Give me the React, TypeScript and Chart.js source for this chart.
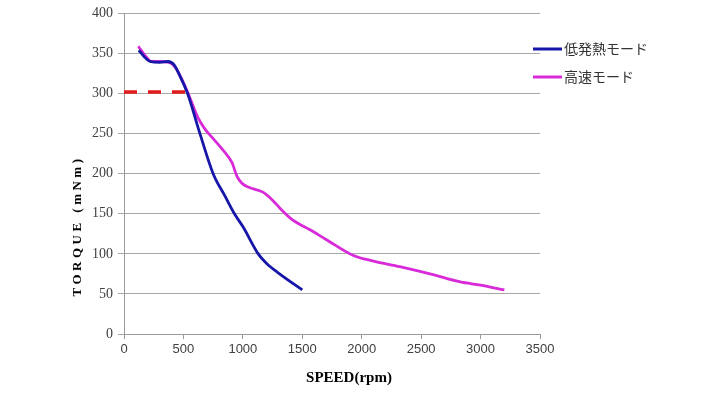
import React, { useEffect, useRef } from "react";
import { Chart, registerables } from "chart.js";

Chart.register(...registerables);

const xTickLabels = ["0", "500", "1000", "1500", "2000", "2500", "3000", "3500"];
const yTickLabels = ["0", "50", "100", "150", "200", "250", "300", "350", "400"];

const lowHeatName = "低発熱モード";
const lowHeatSpeed = [125, 170, 220, 300, 370, 420, 470, 535, 639, 750, 850, 933, 1000, 1129, 1200, 1300, 1500];
const lowHeatTorque = [354, 346, 340, 339, 340, 336, 322, 300, 250, 200, 172, 149, 134, 100, 88, 76, 55];

const highSpeedName = "高速モード";
const highSpeedSpeed = [120, 180, 230, 300, 380, 430, 480, 540, 580, 622, 680, 748, 830, 908, 950, 992, 1050, 1169, 1250, 1312, 1421, 1565, 1700, 1930, 2100, 2320, 2600, 2830, 3000, 3200];
const highSpeedTorque = [359, 347, 340, 340, 339, 333, 320, 300, 285, 270, 256, 244, 230, 214, 197, 188, 183, 177, 167, 157, 142, 130, 118, 98, 91, 84, 74, 65, 61, 55];

const refSpeed = [0, 520];
const refTorque = [302, 302];

const BLUE = "#1616a8";
const MAGENTA = "#d82ad8";
const RED = "#e01c1c";

export default function App() {
  const ref = useRef<HTMLCanvasElement | null>(null);

  useEffect(() => {
    const canvas = ref.current;
    if (!canvas) return;

    const toPts = (xs: number[], ys: number[]) => xs.map((x, i) => ({ x, y: ys[i] }));

    const overlay = {
      id: "overlay",
      afterDraw(chart: any) {
        const ctx = chart.ctx;
        ctx.save();
        const items = [
          { name: lowHeatName, color: BLUE, y: 49 },
          { name: highSpeedName, color: MAGENTA, y: 77 },
        ];
        items.forEach((it) => {
          ctx.strokeStyle = it.color;
          ctx.lineWidth = 3;
          ctx.beginPath();
          ctx.moveTo(533, it.y);
          ctx.lineTo(562, it.y);
          ctx.stroke();
          ctx.fillStyle = "#333333";
          ctx.font = "14px 'Noto Sans CJK JP', sans-serif";
          ctx.textAlign = "left";
          ctx.textBaseline = "middle";
          ctx.fillText(it.name, 564, it.y);
        });
        ctx.fillStyle = "#000000";
        ctx.font = "bold 15px 'Liberation Serif', serif";
        ctx.textAlign = "center";
        ctx.textBaseline = "middle";
        ctx.fillText("SPEED(rpm)", 349, 378);
        ctx.translate(78, 226);
        ctx.rotate(-Math.PI / 2);
        (ctx as any).letterSpacing = "3.5px";
        ctx.font = "bold 13px 'Liberation Serif', serif";
        ctx.fillText("TORQUE (mNm)", 0, 0);
        ctx.restore();
      },
    };

    const chart = new Chart(canvas, {
      type: "line",
      data: {
        datasets: [
          {
            label: "ref",
            data: toPts(refSpeed, refTorque),
            borderColor: RED,
            borderWidth: 3.5,
            borderDash: [13, 11],
            pointRadius: 0,
            fill: false,
          },
          {
            label: lowHeatName,
            data: toPts(lowHeatSpeed, lowHeatTorque),
            borderColor: BLUE,
            borderWidth: 2.8,
            pointRadius: 0,
            cubicInterpolationMode: "monotone",
            fill: false,
          },
          {
            label: highSpeedName,
            data: toPts(highSpeedSpeed, highSpeedTorque),
            borderColor: MAGENTA,
            borderWidth: 2.8,
            pointRadius: 0,
            cubicInterpolationMode: "monotone",
            fill: false,
          },
        ],
      },
      options: {
        responsive: false,
        animation: false,
        layout: { padding: { top: 13, right: 178, left: 0, bottom: 0 } },
        plugins: { legend: { display: false }, tooltip: { enabled: false } },
        scales: {
          x: {
            type: "linear",
            min: 0,
            max: 3500,
            afterFit: (s: any) => {
              s.height = 60;
            },
            afterBuildTicks: (s: any) => {
              s.ticks = xTickLabels.map((v) => ({ value: Number(v) }));
            },
            ticks: {
              font: { family: "'Liberation Sans', Arial, sans-serif", size: 13 },
              color: "#404040",
              padding: 3,
              maxRotation: 0,
              callback: (v: any) => String(v),
            },
            grid: {
              drawOnChartArea: false,
              drawTicks: true,
              tickLength: 5,
              color: "#9a9a9a",
            },
            border: { color: "#9a9a9a", width: 1 },
          },
          y: {
            type: "linear",
            min: 0,
            max: 400,
            afterFit: (s: any) => {
              s.width = 124;
            },
            afterBuildTicks: (s: any) => {
              s.ticks = yTickLabels.map((v) => ({ value: Number(v) }));
            },
            ticks: {
              font: { family: "'Liberation Serif', serif", size: 14 },
              color: "#404040",
              padding: 5,
              callback: (v: any) => String(v),
            },
            grid: {
              color: "#a8a8a8",
              lineWidth: 1,
              drawTicks: true,
              tickLength: 6,
            },
            border: { color: "#9a9a9a", width: 1 },
          },
        },
      },
      plugins: [overlay],
    } as any);

    return () => chart.destroy();
  }, []);

  return (
    <div style={{ position: "fixed", left: 0, top: 0, width: 718, height: 394, background: "#ffffff" }}>
      <canvas ref={ref} width={718} height={394} style={{ display: "block", width: 718, height: 394 }} />
    </div>
  );
}
